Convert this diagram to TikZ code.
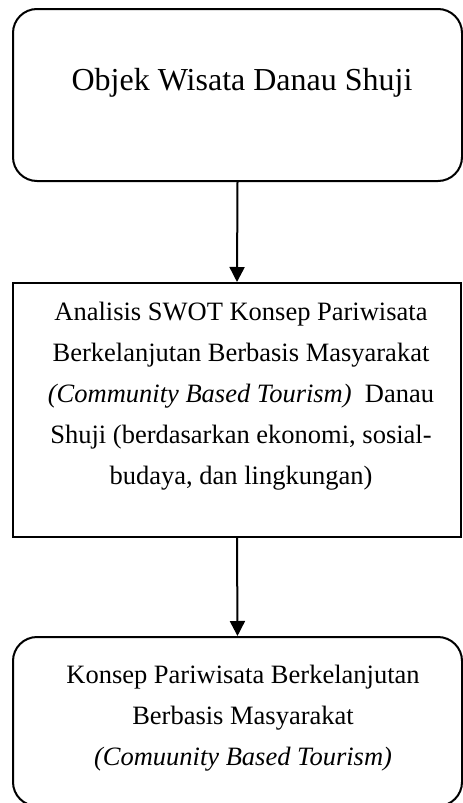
\documentclass[tikz,border=0pt]{standalone}
\usepackage{fontspec}
\setmainfont{Liberation Serif}
\usetikzlibrary{arrows.meta}
\begin{document}
\begin{tikzpicture}[x=1pt,y=-1pt,
  boxr/.style={draw=black,line width=2pt,rounded corners=24pt,inner sep=0pt},
  boxs/.style={draw=black,line width=2pt,inner sep=0pt},
  txt/.style={inner sep=0pt,align=center,anchor=north},
  conn/.style={line width=2pt,-{Triangle[width=15pt,length=15pt]}}]
\useasboundingbox (0,0) rectangle (463,803);
\clip (0,0) rectangle (463,803);
\node[boxr,minimum width=449pt,minimum height=172pt] (top) at (237.5,95) {};
\node[boxs,minimum width=448pt,minimum height=254pt] (mid) at (237,410) {};
\node[boxr,minimum width=449pt,minimum height=169pt] (bot) at (237.5,721.5) {};
\node[txt,font=\fontsize{32}{40}\selectfont] (ttop) at (242,68) {Objek Wisata Danau Shuji};
\node[txt,font=\fontsize{26.5}{41}\selectfont] (tmid) at (241,301.7)
  {Analisis SWOT Konsep Pariwisata\\
   Berkelanjutan Berbasis Masyarakat\\
   \textit{(Community Based Tourism)}\ \ Danau\\
   Shuji (berdasarkan ekonomi, sosial-\\
   budaya, dan lingkungan)};
\node[txt,font=\fontsize{26.5}{41}\selectfont] (tbot) at (243,664.7)
  {Konsep Pariwisata Berkelanjutan\\
   Berbasis Masyarakat\\
   \textit{(Comuunity Based Tourism)}};
\draw[conn] (top.south) -- (mid.north);
\draw[conn] (mid.south) -- (bot.north);
\end{tikzpicture}
\end{document}
